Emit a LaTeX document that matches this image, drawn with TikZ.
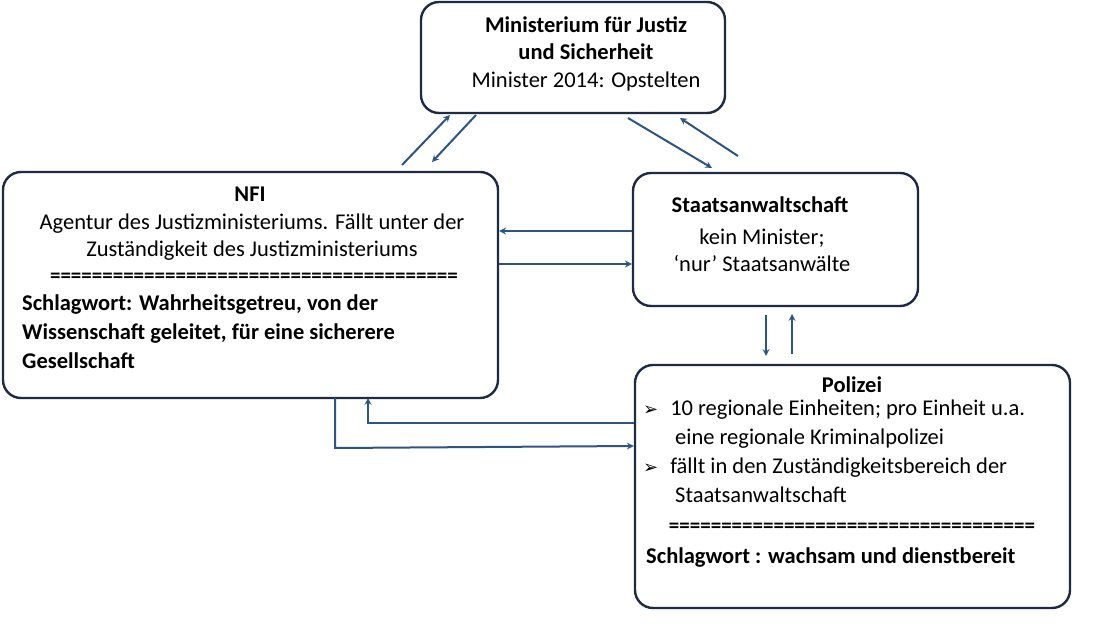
\documentclass[tikz,border=0pt]{standalone}
\usepackage{fontspec}
\setmainfont{Carlito}
\newfontfamily\symfont{DejaVu Sans}
\usetikzlibrary{calc}
\definecolor{boxline}{HTML}{1F2A44}
\definecolor{arrowblue}{HTML}{2E5486}
\newcommand{\bul}{{\symfont\fontsize{18}{18}\selectfont ➢}}
\tikzset{
  box/.style={draw=boxline,line width=2.4pt,rounded corners=18pt,inner sep=0pt},
  flow/.style={draw=arrowblue,line width=2pt,->,>=stealth},
  txt/.style={font=\fontsize{22.5}{27}\selectfont,inner sep=0pt,align=center},
  ltxt/.style={font=\fontsize{22.5}{29}\selectfont,inner sep=0pt,align=left,anchor=north west},
}
\begin{document}
\begin{tikzpicture}[x=1pt,y=-1pt]
\useasboundingbox (0,0) rectangle (1112,642);
% boxes
\node[box,minimum width=304pt,minimum height=111pt] (min) at (573,57.5) {};
\node[box,minimum width=495pt,minimum height=226pt] (nfi) at (250.5,285) {};
\node[box,minimum width=285pt,minimum height=133pt] (sta) at (775.5,239.5) {};
\node[box,minimum width=435pt,minimum height=243pt] (pol) at (852.5,486.5) {};
% texts
\node[txt] (minT) at (586,38) {\bfseries Ministerium für Justiz\\\bfseries und Sicherheit};
\node[txt] (minS) at (586,82) {Minister 2014: Opstelten};
\node[txt] (nfiT) at (250,194) {\bfseries NFI};
\node[txt] (nfiS) at (252,237) {Agentur des Justizministeriums. Fällt unter der\\Zuständigkeit des Justizministeriums};
\node[txt,font=\fontsize{21}{27}\selectfont\bfseries] (nfiE) at (254,278) {=======================================};
\node[ltxt] (nfiL) at (22,295) {\bfseries Schlagwort: Wahrheitsgetreu, von der\\\bfseries Wissenschaft geleitet, für eine sicherere\\\bfseries Gesellschaft};
\node[txt] (staT) at (760,205) {\bfseries Staatsanwaltschaft};
\node[txt] (staS) at (762,250) {kein Minister;\\‘nur’ Staatsanwälte};
\node[txt] (polT) at (852,385) {\bfseries Polizei};
\node[ltxt] (polL) at (643,400) {\bul\hspace{12pt}10 regionale Einheiten; pro Einheit u.a.\\\hspace{32pt}eine regionale Kriminalpolizei\\\bul\hspace{12pt}fällt in den Zuständigkeitsbereich der\\\hspace{32pt}Staatsanwaltschaft};
\node[txt,font=\fontsize{21}{27}\selectfont\bfseries] (polE) at (852,528) {===================================};
\node[txt,anchor=west] (polS) at (646,558) {\bfseries Schlagwort : wachsam und dienstbereit};
% connectors
\coordinate (a1) at (402,165); \coordinate (a2) at (450,115);
\coordinate (b1) at (476,115); \coordinate (b2) at (432,162);
\coordinate (c1) at (628,118); \coordinate (c2) at (712,168);
\coordinate (d1) at (738,156); \coordinate (d2) at (680,118);
\draw[flow] (a1) -- (a2);
\draw[flow] (b1) -- (b2);
\draw[flow] (c1) -- (c2);
\draw[flow] (d1) -- (d2);
\draw[flow] (sta.west|-0,231) -- (nfi.east|-0,231);
\draw[flow] (nfi.east|-0,264) -- (sta.west|-0,264);
\draw[flow] (766,315) -- (766,356);
\draw[flow] (792,354) -- (792,314);
\draw[flow] (pol.west|-0,423) -- (368,423) -- (368,398);
\draw[flow] (335,398) -- (335,448) -- (pol.west|-0,446);
\end{tikzpicture}
\end{document}
